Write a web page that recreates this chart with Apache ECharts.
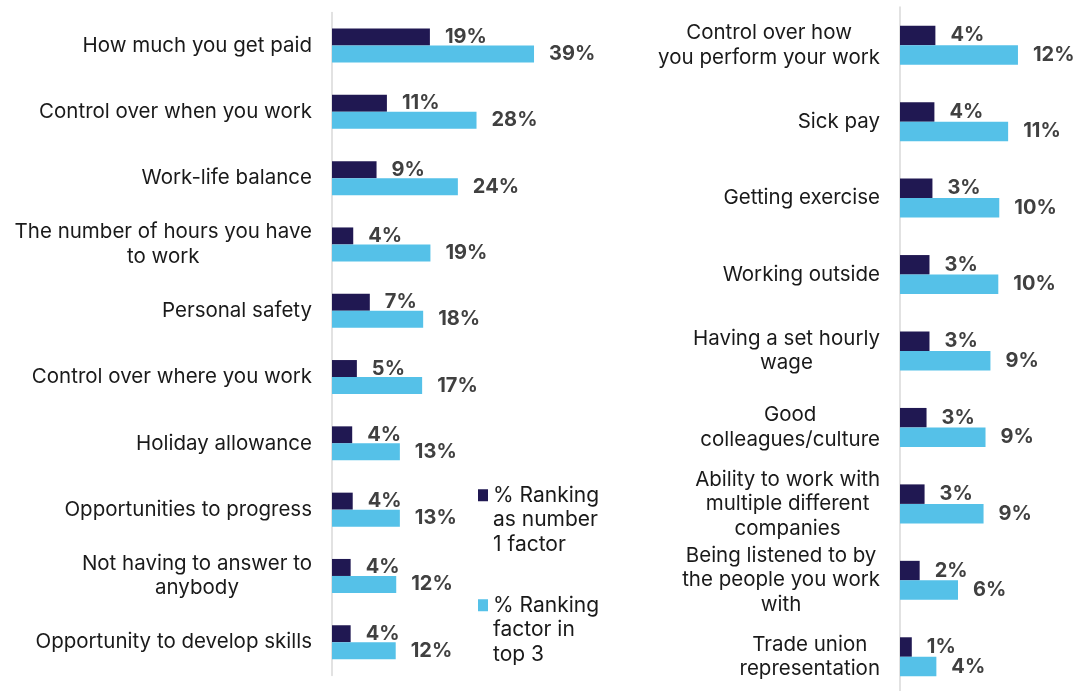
<!DOCTYPE html>
<html>
<head>
<meta charset="utf-8">
<script src="https://cdn.jsdelivr.net/npm/echarts@6/dist/echarts.min.js"></script>
<style>
  html, body { margin: 0; padding: 0; background: #fff; }
  #chart { width: 1081px; height: 691px; }
</style>
</head>
<body>
<div id="chart"></div>
<script>
// left panel
var leftCats = [
  "How much you get paid",
  "Control over when you work",
  "Work-life balance",
  "The number of hours you have\nto work",
  "Personal safety",
  "Control over where you work",
  "Holiday allowance",
  "Opportunities to progress",
  "Not having to answer to\nanybody",
  "Opportunity to develop skills"
];
var leftTop1 = [18.9, 10.6, 8.6, 4.1, 7.3, 4.8, 3.9, 4.0, 3.6, 3.6];
var leftTop3 = [39.0, 27.9, 24.3, 19.0, 17.6, 17.4, 13.1, 13.1, 12.4, 12.3];

// right panel
var rightCats = [
  "Control over how\nyou perform your work",
  "Sick pay",
  "Getting exercise",
  "Working outside",
  "Having a set hourly\nwage",
  "Good\ncolleagues/culture",
  "Ability to work with\nmultiple different\ncompanies",
  "Being listened to by\nthe people you work\nwith",
  "Trade union\nrepresentation"
];
var rightTop1 = [3.6, 3.5, 3.3, 3.0, 3.0, 2.7, 2.5, 2.0, 1.2];
var rightTop3 = [12.0, 11.0, 10.1, 10.0, 9.2, 8.7, 8.5, 5.9, 3.7];

var seriesNames = ["% Ranking as number 1 factor", "% Ranking factor in top 3"];
var legendText = ["% Ranking\nas number\n1 factor", "% Ranking\nfactor in\ntop 3"];

var DARK = "#201852";
var LIGHT = "#55C1E8";
var FONT = "Inter";

var chart = echarts.init(document.getElementById("chart"));

function catAxis(idx, cats) {
  return {
    type: "category",
    gridIndex: idx,
    data: cats,
    inverse: true,
    axisTick: { show: false },
    axisLine: { show: true, lineStyle: { color: "#d9d9d9", width: 1.5 } },
    axisLabel: {
      margin: 20,
      interval: 0,
      formatter: function (v) {
        // center every line inside the right-aligned block
        return v.split("\n").map(function (l) { return "{c|" + l + "}"; }).join("\n");
      },
      rich: {
        c: { align: "center", fontSize: 20.5, lineHeight: 24.5, color: "#1a1a1a", fontFamily: FONT }
      }
    }
  };
}

function valAxis(idx, max) {
  return {
    type: "value",
    gridIndex: idx,
    min: 0,
    max: max,
    show: false,
    splitLine: { show: false }
  };
}

function barSeries(name, idx, data, color, width) {
  return {
    name: name,
    type: "bar",
    xAxisIndex: idx,
    yAxisIndex: idx,
    data: data,
    barWidth: width,
    barGap: "0%",
    itemStyle: { color: color },
    label: {
      show: true,
      position: "right",
      distance: 15,
      formatter: function (p) { return Math.round(p.value) + "%"; },
      color: "#404040",
      fontWeight: "bold",
      fontSize: 20,
      fontFamily: FONT
    }
  };
}

function legendItem(i, top) {
  return {
    data: [seriesNames[i]],
    left: 473,
    top: top,
    orient: "vertical",
    icon: "rect",
    itemWidth: 10,
    itemHeight: 12,
    selectedMode: false,
    // two blank lines on top so the first text line sits beside the icon
    formatter: function () { return "\n\n" + legendText[i]; },
    textStyle: {
      fontSize: 21,
      lineHeight: 24.5,
      color: "#1a1a1a",
      fontFamily: FONT
    }
  };
}

var option = {
  animation: false,
  color: [DARK, LIGHT],
  legend: [legendItem(0, 429), legendItem(1, 539)],
  grid: [
    { left: 332, top: 12.4, width: 50 * 5.18, height: 663, outerBoundsMode: "none" },
    { left: 900, top: 7, width: 15 * 9.83, height: 688, outerBoundsMode: "none" }
  ],
  xAxis: [valAxis(0, 50), valAxis(1, 15)],
  yAxis: [catAxis(0, leftCats), catAxis(1, rightCats)],
  series: [
    barSeries(seriesNames[0], 0, leftTop1, DARK, 17),
    barSeries(seriesNames[1], 0, leftTop3, LIGHT, 17),
    barSeries(seriesNames[0], 1, rightTop1, DARK, 19.5),
    barSeries(seriesNames[1], 1, rightTop3, LIGHT, 19.5)
  ]
};

chart.setOption(option);
</script>
</body>
</html>
